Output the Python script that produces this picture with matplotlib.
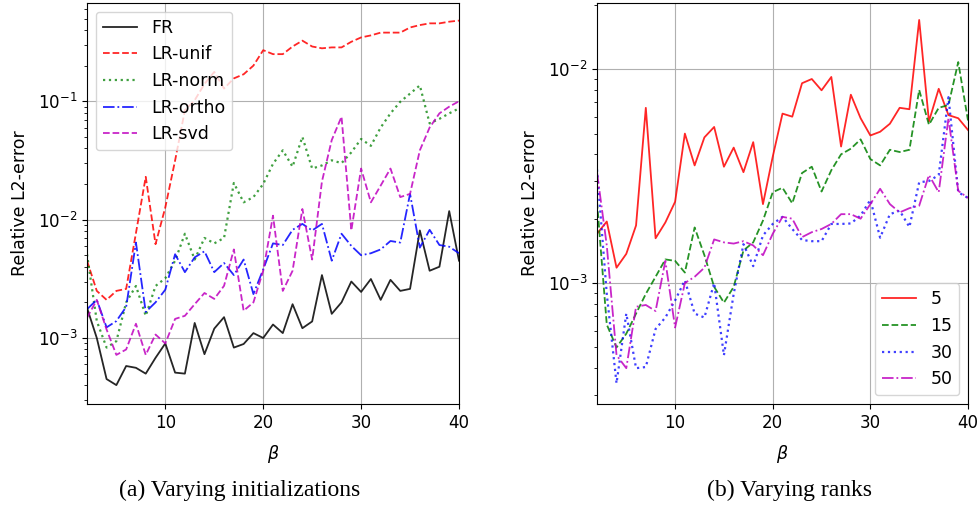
import matplotlib
matplotlib.use("Agg")
import matplotlib.pyplot as plt
import numpy as np

beta = np.arange(2, 41)

# (a) varying initializations
fr = [1.8e-3, 1.0e-3, 4.5e-4, 4.0e-4, 5.8e-4, 5.6e-4, 5.0e-4, 6.8e-4, 9.0e-4, 5.1e-4,
      5.0e-4, 1.34e-3, 7.3e-4, 1.2e-3, 1.5e-3, 8.3e-4, 8.9e-4, 1.1e-3, 1.0e-3, 1.3e-3,
      1.1e-3, 1.93e-3, 1.21e-3, 1.38e-3, 3.4e-3, 1.6e-3, 2.0e-3, 3.0e-3, 2.45e-3, 3.15e-3,
      2.1e-3, 3.1e-3, 2.5e-3, 2.6e-3, 8.1e-3, 3.7e-3, 4.0e-3, 1.18e-2, 4.5e-3]
lr_unif = [4.5e-3, 2.5e-3, 2.1e-3, 2.5e-3, 2.6e-3, 7.7e-3, 2.3e-2, 6.2e-3, 1.27e-2, 3.16e-2,
           8.4e-2, 0.102, 0.14, 0.177, 0.128, 0.156, 0.169, 0.20, 0.27, 0.25,
           0.25, 0.29, 0.325, 0.29, 0.28, 0.285, 0.285, 0.318, 0.346, 0.36,
           0.38, 0.38, 0.38, 0.42, 0.44, 0.455, 0.455, 0.47, 0.48]
lr_norm = [5.1e-3, 1.39e-3, 8.3e-4, 9.4e-4, 2.0e-3, 2.75e-3, 1.54e-3, 2.75e-3, 3.2e-3, 4.5e-3,
           7.6e-3, 4.6e-3, 7.0e-3, 6.3e-3, 7.0e-3, 2.04e-2, 1.4e-2, 1.55e-2, 2.0e-2, 2.96e-2,
           3.85e-2, 2.8e-2, 5.0e-2, 2.7e-2, 2.87e-2, 3.17e-2, 3.0e-2, 3.7e-2, 4.8e-2, 4.2e-2,
           6.0e-2, 7.9e-2, 0.099, 0.116, 0.136, 0.065, 0.071, 0.079, 0.087]
lr_ortho = [1.75e-3, 2.1e-3, 1.23e-3, 1.39e-3, 1.83e-3, 6.4e-3, 1.66e-3, 2.0e-3, 2.56e-3, 5.1e-3,
            3.6e-3, 4.8e-3, 5.4e-3, 3.6e-3, 4.3e-3, 3.4e-3, 4.6e-3, 2.35e-3, 3.8e-3, 6.3e-3,
            6.1e-3, 8.2e-3, 9.2e-3, 8.1e-3, 9.2e-3, 4.5e-3, 7.6e-3, 6.0e-3, 5.0e-3, 5.2e-3,
            5.6e-3, 6.6e-3, 6.4e-3, 1.65e-2, 5.8e-3, 8.2e-3, 6.1e-3, 5.9e-3, 5.2e-3]
lr_svd = [1.48e-3, 2.1e-3, 1.18e-3, 7.2e-4, 8.0e-4, 1.32e-3, 7.2e-4, 1.07e-3, 9.0e-4, 1.45e-3,
          1.54e-3, 1.93e-3, 2.4e-3, 2.14e-3, 2.76e-3, 5.6e-3, 1.7e-3, 2.0e-3, 3.7e-3, 1.08e-2,
          2.5e-3, 3.7e-3, 1.23e-2, 4.6e-3, 2.1e-2, 4.7e-2, 7.4e-2, 8.1e-3, 2.7e-2, 1.4e-2,
          1.94e-2, 2.7e-2, 1.55e-2, 1.65e-2, 3.85e-2, 6.0e-2, 7.9e-2, 9.0e-2, 0.1]

# (b) varying ranks
r5 = [1.7e-3, 1.94e-3, 1.18e-3, 1.37e-3, 1.86e-3, 6.6e-3, 1.62e-3, 1.92e-3, 2.4e-3, 5.0e-3,
      3.55e-3, 4.8e-3, 5.37e-3, 3.5e-3, 4.3e-3, 3.3e-3, 4.56e-3, 2.34e-3, 3.9e-3, 6.2e-3,
      6.0e-3, 8.6e-3, 9.0e-3, 7.97e-3, 9.2e-3, 4.35e-3, 7.6e-3, 5.9e-3, 4.9e-3, 5.1e-3,
      5.56e-3, 6.6e-3, 6.5e-3, 1.7e-2, 5.7e-3, 8.1e-3, 6.1e-3, 5.9e-3, 5.2e-3]
r15 = [2.4e-3, 6.4e-4, 5.0e-4, 5.8e-4, 7.2e-4, 8.9e-4, 1.07e-3, 1.29e-3, 1.27e-3, 1.12e-3,
       1.82e-3, 1.35e-3, 9.6e-4, 8.1e-4, 9.6e-4, 1.42e-3, 1.55e-3, 1.96e-3, 2.66e-3, 2.79e-3,
       2.36e-3, 3.27e-3, 3.5e-3, 2.68e-3, 3.37e-3, 4.0e-3, 4.25e-3, 4.7e-3, 3.8e-3, 3.55e-3,
       4.2e-3, 4.1e-3, 4.2e-3, 8.0e-3, 5.5e-3, 6.6e-3, 6.8e-3, 1.08e-2, 5.76e-3]
r30 = [3.4e-3, 8.9e-4, 3.4e-4, 7.2e-4, 4.0e-4, 4.05e-4, 6.1e-4, 6.9e-4, 8.3e-4, 1.03e-3,
       7.2e-4, 6.9e-4, 1.0e-3, 4.6e-4, 8.9e-4, 1.52e-3, 1.2e-3, 1.67e-3, 1.89e-3, 2.04e-3,
       1.79e-3, 1.59e-3, 1.57e-3, 1.57e-3, 1.89e-3, 1.89e-3, 1.9e-3, 2.07e-3, 2.45e-3, 1.63e-3,
       2.1e-3, 2.18e-3, 1.83e-3, 2.96e-3, 3.0e-3, 3.2e-3, 7.4e-3, 2.66e-3, 2.5e-3]
r50 = [3.3e-3, 1.5e-3, 4.6e-4, 4.0e-4, 7.75e-4, 7.9e-4, 7.4e-4, 1.27e-3, 6.2e-4, 1.0e-3,
       1.07e-3, 1.18e-3, 1.6e-3, 1.55e-3, 1.53e-3, 1.57e-3, 1.5e-3, 1.35e-3, 1.7e-3, 2.04e-3,
       2.0e-3, 1.64e-3, 1.73e-3, 1.79e-3, 1.89e-3, 2.1e-3, 2.1e-3, 2.0e-3, 2.34e-3, 2.76e-3,
       2.34e-3, 2.14e-3, 2.24e-3, 2.3e-3, 3.2e-3, 2.66e-3, 5.9e-3, 2.7e-3, 2.5e-3]

W, H = 979, 520
fig = plt.figure(figsize=(W / 100, H / 100), dpi=100)
ax1 = fig.add_axes([87 / W, (H - 404) / H, (459 - 87) / W, (404 - 3) / H])
ax2 = fig.add_axes([597 / W, (H - 404) / H, (968 - 597) / W, (404 - 3) / H])

lw = 1.3
ax1.semilogy(beta, fr, 'k-', lw=lw, alpha=0.85, label='FR')
ax1.semilogy(beta, lr_unif, 'r--', lw=lw, alpha=0.85, label='LR-unif')
ax1.semilogy(beta, lr_norm, 'g:', lw=lw + 0.3, alpha=0.75, label='LR-norm')
ax1.semilogy(beta, lr_ortho, 'b-.', lw=lw, alpha=0.85, label='LR-ortho')
ax1.semilogy(beta, lr_svd, 'm--', lw=lw, alpha=0.85, label='LR-svd')
ax1.set_ylim(2.77e-4, 0.676)
ax1.legend(loc='upper left', fontsize=12.5)

ax2.semilogy(beta, r5, 'r-', lw=lw, alpha=0.85, label='5')
ax2.semilogy(beta, r15, 'g--', lw=lw, alpha=0.85, label='15')
ax2.semilogy(beta, r30, 'b:', lw=lw + 0.3, alpha=0.75, label='30')
ax2.semilogy(beta, r50, 'm-.', lw=lw, alpha=0.85, label='50')
ax2.set_ylim(2.72e-4, 2.04e-2)
ax2.legend(loc='lower right', fontsize=12.5)

for ax in (ax1, ax2):
    ax.set_xlim(2, 40)
    ax.set_xticks([10, 20, 30, 40])
    ax.grid(True, which='major', color='#b0b0b0', lw=0.8)
    ax.set_xlabel(r'$\beta$', fontsize=12.5, labelpad=8)
    ax.set_ylabel('Relative L2-error', fontsize=12.5, labelpad=6)
    ax.tick_params(labelsize=12)

fig.text(240 / W, 1 - 490 / H, '(a) Varying initializations', ha='center', va='center',
         family='Liberation Serif', fontsize=17)
fig.text(790 / W, 1 - 490 / H, '(b) Varying ranks', ha='center', va='center',
         family='Liberation Serif', fontsize=17)

fig.savefig('out.png', dpi=100)
